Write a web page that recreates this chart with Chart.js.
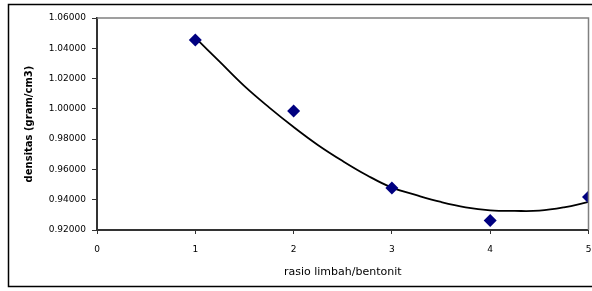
<!DOCTYPE html>
<html>
<head>
<meta charset="utf-8">
<script src="https://cdn.jsdelivr.net/npm/chart.js@4/dist/chart.umd.min.js"></script>
<style>
  html, body { margin: 0; padding: 0; background: #fff; overflow: hidden; }
  #wrap { position: relative; width: 595px; height: 291px; }
</style>
</head>
<body>
<div id="wrap"><canvas id="chart"></canvas></div>
<script>
// measured points
const rasio = [1, 2, 3, 4, 5];
const densitas = [1.0455, 0.9986, 0.9477, 0.9262, 0.9418];

// trendline
const trendX = [1, 1.25, 1.5, 1.75, 2, 2.25, 2.5, 2.75, 3, 3.25, 3.5, 3.75, 4, 4.25, 4.5, 4.75, 5];
const trendY = [1.0470, 1.0310, 1.0150, 1.0010, 0.9880, 0.9760, 0.9655, 0.9560, 0.9480, 0.9430, 0.9385, 0.9350, 0.9330, 0.9326, 0.9328, 0.9350, 0.9385];

const yTicks = [0.92, 0.94, 0.96, 0.98, 1.00, 1.02, 1.04, 1.06];
const xTicks = [0, 1, 2, 3, 4, 5];

const frame = {
    id: 'frame',
    beforeDraw(chart) {
        const ctx = chart.ctx;
        ctx.save();
        ctx.strokeStyle = '#000';
        ctx.lineWidth = 1.5;
        ctx.strokeRect(8.5, 4.5, 620, 282);
        ctx.restore();
    },
    afterDatasetsDraw(chart) {
        const a = chart.chartArea;
        const ctx = chart.ctx;
        ctx.save();
        ctx.strokeStyle = '#808080';
        ctx.lineWidth = 1.5;
        ctx.beginPath();
        ctx.moveTo(a.left, a.top);
        ctx.lineTo(a.right, a.top);
        ctx.lineTo(a.right, a.bottom);
        ctx.stroke();
        ctx.restore();
    }
};

Chart.defaults.font.family = 'DejaVu Sans';
Chart.defaults.color = '#000';

new Chart(document.getElementById('chart'), {
    type: 'scatter',
    data: {
        datasets: [
            {
                label: 'densitas',
                data: rasio.map((x, i) => ({ x: x, y: densitas[i] })),
                pointStyle: 'rectRot',
                pointRadius: 6.5,
                pointBackgroundColor: '#000080',
                pointBorderColor: '#000080',
                pointBorderWidth: 0,
                order: 1
            },
            {
                label: 'trend',
                data: trendX.map((x, i) => ({ x: x, y: trendY[i] })),
                showLine: true,
                pointRadius: 0,
                borderColor: '#000',
                borderWidth: 1.8,
                tension: 0.4,
                order: 2
            }
        ]
    },
    options: {
        responsive: true,
        maintainAspectRatio: false,
        animation: false,
        layout: { padding: { top: 18, right: 1, left: 0, bottom: 0 } },
        plugins: {
            legend: { display: false },
            tooltip: { enabled: false }
        },
        scales: {
            x: {
                type: 'linear',
                min: 0,
                max: 5,
                afterBuildTicks: s => { s.ticks = xTicks.map(v => ({ value: v })); },
                afterFit: s => { s.height = 61; s.paddingLeft = 0; s.paddingRight = 0; },
                grid: { drawOnChartArea: false, tickLength: 4, color: '#333' },
                border: { color: '#333', width: 2 },
                ticks: { font: { size: 9 }, padding: 10, maxRotation: 0 },
                title: {
                    display: true,
                    text: 'rasio limbah/bentonit',
                    font: { size: 11 },
                    padding: { top: 4, bottom: 12 }
                }
            },
            y: {
                type: 'linear',
                min: 0.92,
                max: 1.06,
                afterBuildTicks: s => { s.ticks = yTicks.map(v => ({ value: v })); },
                afterFit: s => { s.width = 97; },
                grid: { drawOnChartArea: false, tickLength: 5, color: '#333' },
                border: { color: '#333', width: 2 },
                ticks: {
                    font: { size: 9 },
                    padding: 6,
                    callback: v => v.toFixed(5)
                },
                title: {
                    display: true,
                    text: 'densitas (gram/cm3)',
                    font: { size: 10, weight: 'bold' },
                    padding: { top: 23, bottom: 4 }
                }
            }
        }
    },
    plugins: [frame]
});
</script>
</body>
</html>
